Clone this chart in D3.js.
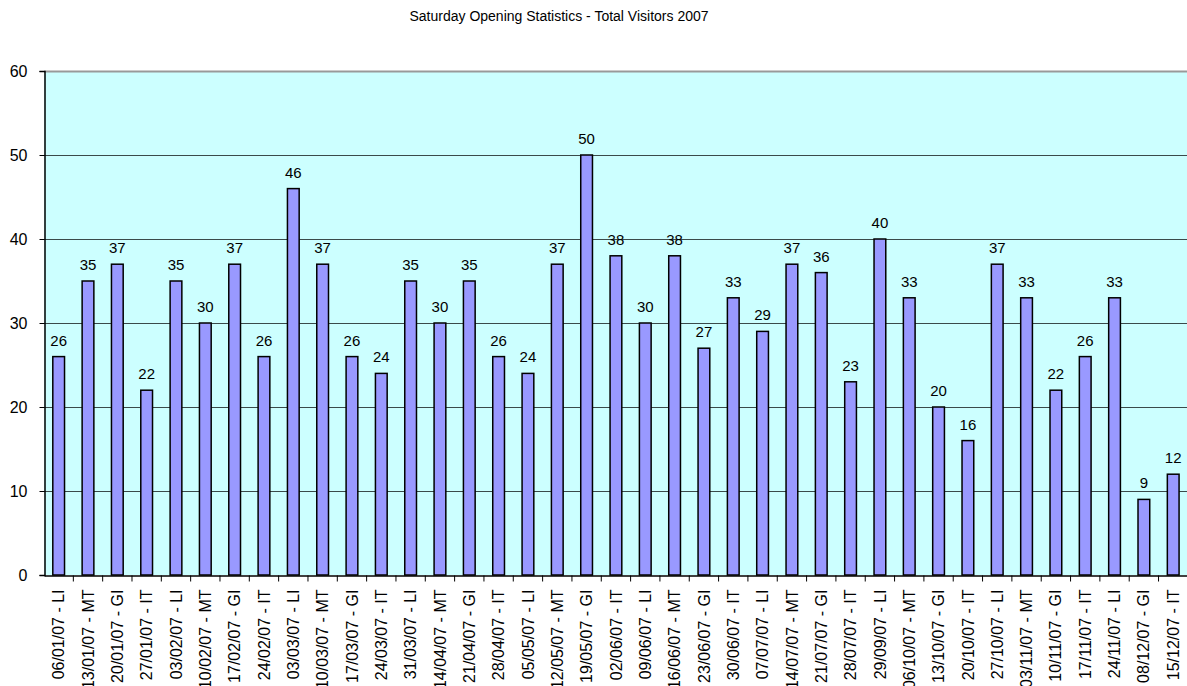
<!DOCTYPE html>
<html>
<head>
<meta charset="utf-8">
<script src="https://cdn.jsdelivr.net/npm/d3@7"></script>
<style>
  body { margin: 0; background: #fff; }
  text { font-family: Arial, "Liberation Sans", sans-serif; }
</style>
</head>
<body>
<div id="chart"></div>
<script>
// Visit dates with the staff initials
var dates = ["06/01/07 - LI", "13/01/07 - MT", "20/01/07 - GI", "27/01/07 - IT", "03/02/07 - LI",
	"10/02/07 - MT", "17/02/07 - GI", "24/02/07 - IT", "03/03/07 - LI", "10/03/07 - MT",
	"17/03/07 - GI", "24/03/07 - IT", "31/03/07 - LI", "14/04/07 - MT", "21/04/07 - GI",
	"28/04/07 - IT", "05/05/07 - LI", "12/05/07 - MT", "19/05/07 - GI", "02/06/07 - IT",
	"09/06/07 - LI", "16/06/07 - MT", "23/06/07 - GI", "30/06/07 - IT", "07/07/07 - LI",
	"14/07/07 - MT", "21/07/07 - GI", "28/07/07 - IT", "29/09/07 - LI", "06/10/07 - MT",
	"13/10/07 - GI", "20/10/07 - IT", "27/10/07 - LI", "03/11/07 - MT", "10/11/07 - GI",
	"17/11/07 - IT", "24/11/07 - LI", "08/12/07 - GI", "15/12/07 - IT"];

var visitors = [26, 35, 37, 22, 35, 30, 37, 26, 46, 37, 26, 24, 35, 30, 35, 26, 24, 37, 50, 38,
	30, 38, 27, 33, 29, 37, 36, 23, 40, 33, 20, 16, 37, 33, 22, 26, 33, 9, 12];

var yTicks = [0, 10, 20, 30, 40, 50, 60];

var width = 1187, height = 686;
var margin = {top: 71, left: 44, bottom: 575};
var font = "Arial, 'Liberation Sans', sans-serif";

var svg = d3.select("#chart").append("svg")
	.attr("width", width)
	.attr("height", height);

// Scales
var x = d3.scaleBand().domain(dates).range([margin.left, margin.left + 39 * 29.33]).paddingInner(0).paddingOuter(0);
var y = d3.scaleLinear().domain([0, 60]).range([margin.bottom, margin.top]);

// Title
svg.append("text")
	.attr("x", 559)
	.attr("y", 21)
	.attr("text-anchor", "middle")
	.attr("font-size", "14px")
	.text("Saturday Opening Statistics - Total Visitors 2007");

// Plot background
svg.append("rect")
	.attr("x", margin.left)
	.attr("y", margin.top)
	.attr("width", width - margin.left)
	.attr("height", margin.bottom - margin.top)
	.attr("fill", "#ccffff");

// Gridlines
svg.selectAll(".grid")
	.data(yTicks.filter(d => d > 0))
	.enter().append("line")
	.attr("class", "grid")
	.attr("x1", margin.left)
	.attr("x2", width)
	.attr("y1", d => Math.round(y(d)) + 0.5)
	.attr("y2", d => Math.round(y(d)) + 0.5)
	.attr("stroke", d => d === 60 ? "#999" : "#3a4a4a")
	.attr("stroke-width", d => d === 60 ? 2 : 1);

// Bars
var bw = x.bandwidth() / 2.5;
svg.selectAll(".bar")
	.data(visitors)
	.enter().append("rect")
	.attr("class", "bar")
	.attr("x", (d, i) => x(dates[i]) + (x.bandwidth() - bw) / 2)
	.attr("y", d => y(d))
	.attr("width", bw)
	.attr("height", d => y(0) - y(d))
	.attr("fill", "#9999ff")
	.attr("stroke", "#000")
	.attr("stroke-width", 1.5);

// Value labels
svg.selectAll(".val")
	.data(visitors)
	.enter().append("text")
	.attr("class", "val")
	.attr("x", (d, i) => x(dates[i]) + x.bandwidth() / 2)
	.attr("y", d => y(d) - 11)
	.attr("text-anchor", "middle")
	.attr("font-size", "15px")
	.text(d => d);

// Y axis
var yAxis = d3.axisLeft(y).tickValues(yTicks).tickSize(5).tickPadding(12);
var gy = svg.append("g")
	.attr("transform", "translate(" + (margin.left + 0.5) + ",0)")
	.call(yAxis);
gy.select(".domain").attr("stroke", "#000").attr("stroke-width", 1.5);
gy.selectAll(".tick line").attr("stroke", "#000");
gy.selectAll(".tick text").attr("font-size", "16px").attr("fill", "#000").attr("font-family", font);

// X axis
var xAxis = d3.axisBottom(x).tickSize(6).tickSizeOuter(0);
var gx = svg.append("g")
	.attr("transform", "translate(0," + (margin.bottom + 0.5) + ")")
	.call(xAxis);
gx.select(".domain").attr("stroke", "#000").attr("stroke-width", 1.5);
// ticks sit between categories
gx.selectAll(".tick line")
	.attr("stroke", "#000")
	.attr("x1", x.bandwidth() / 2)
	.attr("x2", x.bandwidth() / 2);
gx.selectAll(".tick text")
	.attr("font-size", "16px")
	.attr("fill", "#000")
	.attr("font-family", font)
	.attr("transform", "rotate(-90)")
	.attr("text-anchor", "end")
	.attr("x", -14)
	.attr("y", 0)
	.attr("dy", "0.35em");
</script>
</body>
</html>
